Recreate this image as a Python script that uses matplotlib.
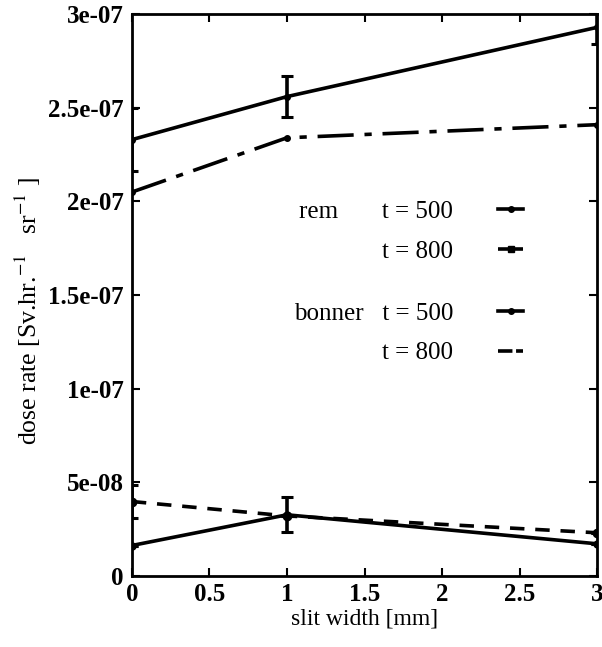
import matplotlib
matplotlib.use("Agg")
import matplotlib.pyplot as plt
from matplotlib.lines import Line2D

# slit width [mm]
slit = [0, 1, 3]

# dose rate values
rem_500 = [2.33e-07, 2.56e-07, 2.93e-07]
rem_500_err = [0.17e-07, 0.11e-07, 0.09e-07]
rem_800 = [2.05e-07, 2.34e-07, 2.41e-07]
bonner_500 = [1.62e-08, 3.26e-08, 1.71e-08]
bonner_500_err = [0.0, 0.93e-08, 0.0]
bonner_800 = [3.97e-08, 3.20e-08, 2.30e-08]
bonner_800_err = [0.9e-08, 0.0, 0.0]

xticks = [0, 0.5, 1, 1.5, 2, 2.5, 3]
xtick_labels = ["0", "0.5", "1", "1.5", "2", "2.5", "3"]
yticks = [0, 5e-08, 1e-07, 1.5e-07, 2e-07, 2.5e-07, 3e-07]
ytick_labels = ["0", "5e-08", "1e-07", "1.5e-07", "2e-07", "2.5e-07", "3e-07"]

plt.rcParams["font.family"] = ["Liberation Serif", "DejaVu Serif"]
plt.rcParams["mathtext.fontset"] = "stix"


def plot_dose(ax):
    lw = 2.6
    ax.errorbar(slit, rem_500, yerr=rem_500_err, color="black", lw=lw,
                marker="o", ms=4, capsize=4, elinewidth=2.6, capthick=2.2)
    ax.plot(slit, rem_800, color="black", lw=lw, marker="o", ms=4,
            dashes=(10, 3, 2, 3))
    ax.errorbar(slit, bonner_500, yerr=bonner_500_err, color="black", lw=lw,
                marker="o", ms=5, capsize=4, elinewidth=2.6, capthick=2.2)
    ax.errorbar(slit, bonner_800, yerr=bonner_800_err, color="black", lw=lw,
                marker="o", ms=6, capsize=4, elinewidth=2.6, capthick=2.2,
                dashes=(4, 3))

    ax.set_xlim(0, 3)
    ax.set_ylim(0, 3e-07)
    ax.set_xticks(xticks)
    ax.set_xticklabels(xtick_labels, fontweight="bold", fontsize=18)
    ax.set_yticks(yticks)
    ax.set_yticklabels(ytick_labels, fontweight="bold", fontsize=18)
    ax.tick_params(direction="in", length=6, width=1.5, top=True, right=True,
                   pad=6)
    ax.tick_params(axis="x", pad=5)
    for s in ax.spines.values():
        s.set_linewidth(2)

    ax.set_xlabel("slit width [mm]", fontsize=17, labelpad=2)
    ax.set_ylabel(r"dose rate [Sv.hr.$^{-1}$   sr$^{-1}$ ]", fontsize=18.5)
    ax.yaxis.set_label_coords(-0.19, 0.472)

    # gnuplot-style key: text right-aligned, sample to the right
    key = dict(loc="upper right", frameon=False, markerfirst=False,
               fontsize=18, handlelength=1.0, handletextpad=1.8,
               labelspacing=0.68, borderpad=0, borderaxespad=0)
    rem_handles = [
        Line2D([], [], color="black", lw=2.6, marker="o", ms=4),
        Line2D([], [], color="black", lw=2.6, marker="s", ms=4,
               dashes=(10, 3, 2, 3)),
    ]
    leg1 = ax.legend(rem_handles, ["rem       t = 500", "t = 800"],
                     bbox_to_anchor=(0.841, 0.668), **key)
    ax.add_artist(leg1)
    bon_handles = [
        Line2D([], [], color="black", lw=2.6, marker="o", ms=4),
        Line2D([], [], color="black", lw=2.6, dashes=(4, 1)),
    ]
    ax.legend(bon_handles, ["bonner   t = 500", "t = 800"],
              bbox_to_anchor=(0.841, 0.487), **key)


if __name__ == "__main__":
    fig = plt.figure(figsize=(6.02, 6.47), dpi=100)
    ax = fig.add_axes([0.219, 0.110, 0.773, 0.868])
    plot_dose(ax)
    fig.savefig("out.png", dpi=100)
